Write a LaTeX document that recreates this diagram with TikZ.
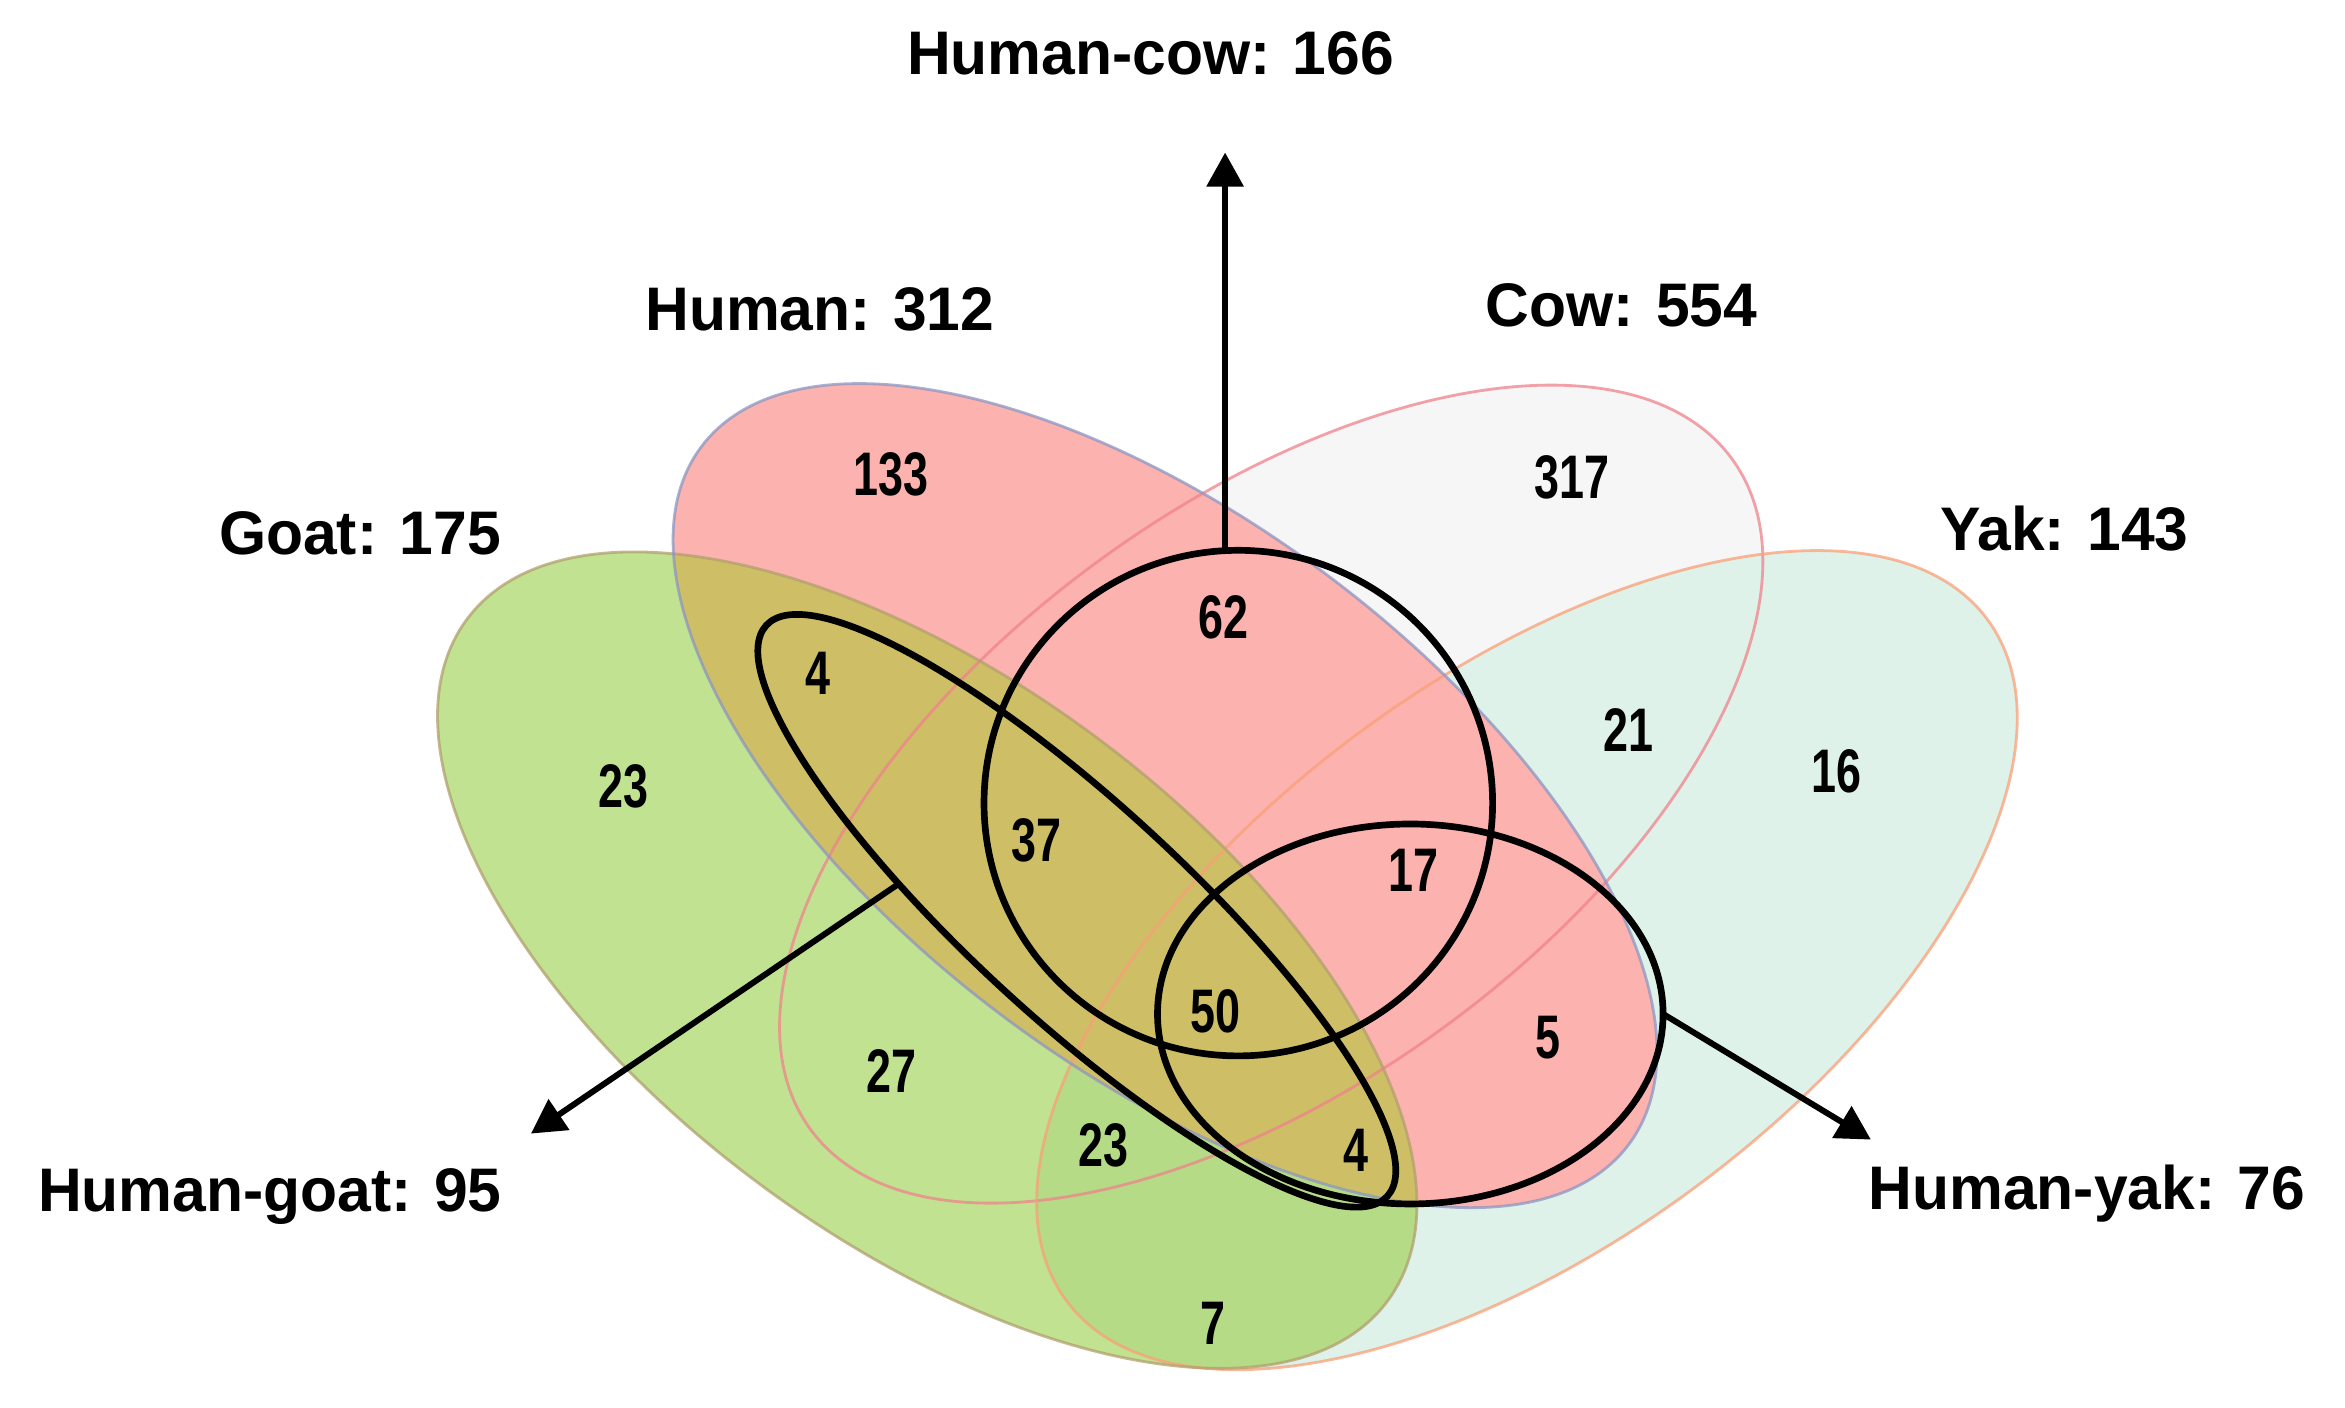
\documentclass[tikz,border=0pt]{standalone}
\usepackage{fontspec}
\newfontfamily\labfont{Liberation Sans}[FakeStretch=0.985]
\newfontfamily\numfont{Liberation Sans}[FakeStretch=0.73]
\usetikzlibrary{arrows.meta,shapes.geometric}
\definecolor{goatfill}{RGB}{193,226,145}
\definecolor{goatyak}{RGB}{181,219,134}
\definecolor{humanfill}{RGB}{252,178,174}
\definecolor{goathuman}{RGB}{206,190,102}
\definecolor{cowfill}{RGB}{246,246,246}
\definecolor{yakfill}{RGB}{223,242,233}
\definecolor{goatline}{RGB}{178,160,110}
\definecolor{humanline}{RGB}{140,150,195}
\definecolor{cowline}{RGB}{240,130,140}
\definecolor{yakline}{RGB}{250,160,120}
\def\goatshape{(620,642) ellipse [x radius=383, y radius=187]}
\def\humanshape{(779,532) ellipse [x radius=388, y radius=183]}
\def\cowshape{(850,531) ellipse [x radius=381, y radius=194]}
\def\yakshape{(1021,642) ellipse [x radius=383, y radius=189]}
\begin{document}
\begin{tikzpicture}[x=0.014955cm, y=-0.014955cm,
  goatE/.style={rotate around={-36.5:(620,642)}},
  humanE/.style={rotate around={-37:(779,532)}},
  cowE/.style={rotate around={36:(850,531)}},
  yakE/.style={rotate around={36.5:(1021,642)}},
  thinline/.style={line width=0.8pt, draw opacity=0.75},
  labeltext/.style={inner sep=0pt, anchor=base west, font=\labfont\bfseries\fontsize{17.5}{20}\selectfont},
  numtext/.style={inner sep=0pt, font=\numfont\bfseries\fontsize{17.5}{20}\selectfont},
  hilite/.style={draw=black, line width=1.9pt, ellipse, inner sep=0pt, outer sep=0pt},
  pointer/.style={line width=1.7pt, -{Triangle[length=0.34cm, width=0.36cm]}}]
\useasboundingbox (0,0) rectangle (1568,941);
\fill[white] (0,0) rectangle (1568,941);
% set fills
\fill[cowfill, cowE] \cowshape;
\fill[yakfill, yakE] \yakshape;
\fill[goatfill, goatE] \goatshape;
\begin{scope}
  \clip[yakE] \yakshape;
  \fill[goatyak, goatE] \goatshape;
\end{scope}
\fill[humanfill, humanE] \humanshape;
\begin{scope}
  \clip[goatE] \goatshape;
  \fill[goathuman, humanE] \humanshape;
\end{scope}
% set outlines
\draw[cowline, thinline, cowE] \cowshape;
\draw[yakline, thinline, yakE] \yakshape;
\draw[goatline, thinline, goatE] \goatshape;
\draw[humanline, thinline, humanE] \humanshape;
% region counts
\node[numtext] (n133) at (596,317) {133};
\node[numtext] (n317) at (1051,319) {317};
\node[numtext] (n62) at (818,413) {62};
\node[numtext] (n4a) at (547,450) {4};
\node[numtext] (n23a) at (417,526) {23};
\node[numtext] (n37) at (693,562) {37};
\node[numtext] (n21) at (1089,488) {21};
\node[numtext] (n16) at (1228,516) {16};
\node[numtext] (n17) at (945,582) {17};
\node[numtext] (n50) at (813,676) {50};
\node[numtext] (n5) at (1035,694) {5};
\node[numtext] (n27) at (596,716) {27};
\node[numtext] (n23b) at (738,766) {23};
\node[numtext] (n4b) at (907,769) {4};
\node[numtext] (n7) at (811,885) {7};
% highlighted pairs
\node[hilite, minimum width=5.085cm, minimum height=5.055cm] (hc) at (828,537) {};
\node[hilite, minimum width=5.055cm, minimum height=3.799cm] (hy) at (943,678) {};
\node[hilite, rotate=-42.6, minimum width=8.435cm, minimum height=2.154cm] (hg) at (720,609) {};
% labels
\node[labeltext] (hclab) at (606,50) {Human-cow: 166};
\node[labeltext] (humlab) at (431,221) {Human: 312};
\node[labeltext] (cowlab) at (993,218) {Cow: 554};
\node[labeltext] (goatlab) at (146,371) {Goat: 175};
\node[labeltext] (yaklab) at (1297,368) {Yak: 143};
\node[labeltext] (hglab) at (25,810) {Human-goat: 95};
\node[labeltext] (hylab) at (1249,809) {Human-yak: 76};
% arrows
\coordinate (hctip) at (819,102);
\coordinate (hgtip) at (355,758);
\coordinate (hytip) at (1251,762);
\draw[pointer] (hc.93) -- (hc.93 |- hctip);
\draw[pointer] (hg.214) -- (hgtip);
\draw[pointer] (hy.east) -- (hytip);
\end{tikzpicture}
\end{document}
